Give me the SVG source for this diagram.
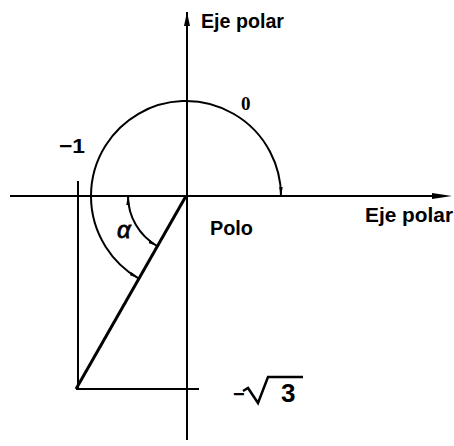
<svg xmlns="http://www.w3.org/2000/svg" width="454" height="446" viewBox="0 0 454 446">
<defs>
<style>
.ln{stroke:#000;fill:none;stroke-width:2}
.thick{stroke:#000;fill:none;stroke-width:3}
.t{font-family:"Liberation Sans",Arial,sans-serif;font-weight:bold;fill:#000}
</style>
<marker id="ahs" viewBox="0 0 10 5" refX="9" refY="2.5" markerWidth="10" markerHeight="5" markerUnits="userSpaceOnUse" orient="auto-start-reverse">
<path d="M0,0.8 L10,2.5 L0,4.2 Z" fill="#000"/>
</marker>
</defs>
<rect width="454" height="446" fill="#fff"/>
<g id="connectors">
<line class="ln" x1="187" y1="440" x2="187" y2="12"/>
<path d="M184,26 L187,12 L190,26 Z" fill="#000"/>
<line class="ln" x1="10" y1="196" x2="440" y2="196"/>
<path d="M432,193 L452,196 L432,199 Z" fill="#000"/>
<path class="ln" d="M 281 196 A 95 95 0 1 0 138.5 278.3" marker-start="url(#ahs)" marker-end="url(#ahs)"/>
<path class="ln" d="M 128 196 A 58 58 0 0 0 157 246" marker-start="url(#ahs)" marker-end="url(#ahs)"/>
<line class="thick" x1="186" y1="196" x2="76" y2="389"/>
<line class="ln" x1="78" y1="181" x2="78" y2="389"/>
<line class="ln" x1="76" y1="389" x2="199" y2="389"/>
</g>
<g id="labels">
<text class="t" x="201" y="28" font-size="20" textLength="83" lengthAdjust="spacingAndGlyphs">Eje polar</text>
<text class="t" x="365" y="222" font-size="20" textLength="88" lengthAdjust="spacingAndGlyphs">Eje polar</text>
<text class="t" x="210" y="235" font-size="21" textLength="43" lengthAdjust="spacingAndGlyphs">Polo</text>
<text x="241" y="110" font-family="Liberation Serif,serif" font-weight="bold" font-size="19">0</text>
<text class="t" x="59" y="153" font-size="21" textLength="26" lengthAdjust="spacingAndGlyphs">−1</text>
<text x="117" y="238" font-family="Liberation Sans,sans-serif" font-style="italic" font-size="24" stroke="#000" stroke-width="0.8">α</text>
<g id="sqrt3">
<text class="t" x="233" y="401" font-size="20">−</text>
<path d="M243,391 L248,388 L258,403 L268,377 L303,377" stroke="#000" stroke-width="2.5" fill="none"/>
<text class="t" x="281" y="402" font-size="26">3</text>
</g>
</g>
</svg>
